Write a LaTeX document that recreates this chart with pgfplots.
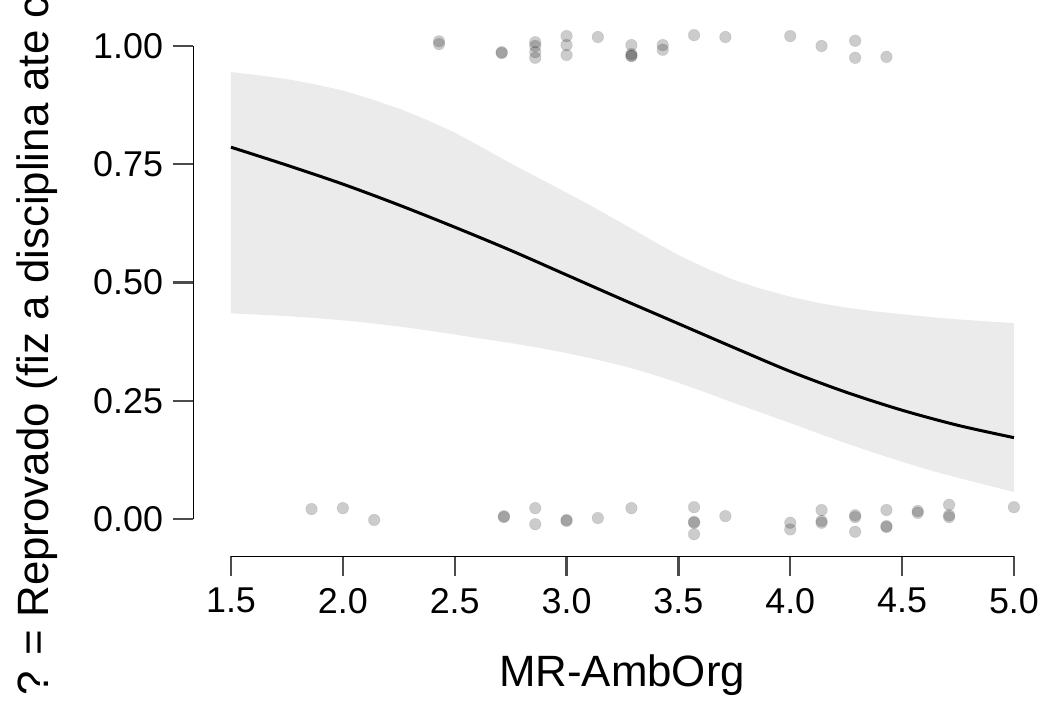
\documentclass[border=0pt]{standalone}
\usepackage{pgfplots}
\pgfplotsset{compat=1.18}
\usepackage{fontspec}
\setmainfont{Liberation Sans}

\newcommand{\ticksize}{\fontsize{18}{20}\selectfont}
\newcommand{\labsize}{\fontsize{22}{24}\selectfont}

\begin{document}
\begin{tikzpicture}
  % page = 1046x707 px at 0.5bp per px, axis corner (1.5,0) at the origin
  \useasboundingbox (-115.5bp,-94bp) rectangle (407.5bp,259.5bp);
  \begin{axis}[
    at={(0,0)}, anchor=south west,
    x=111.85bp, y=236.5bp,
    xmin=1.5, xmax=5, ymin=0, ymax=1,
    clip=false,
    axis x line*=bottom, axis y line*=left,
    x axis line style={-, yshift=-18.5bp},
    y axis line style={-, xshift=-19bp},
    every axis line/.append style={line width=1.1bp, draw=black!70},
    tick align=outside, major tick length=10bp,
    xtick style={yshift=-18.5bp, line width=1.1bp, draw=black!70},
    ytick style={xshift=-19bp, line width=1.1bp, draw=black!70},
    xtick={1.5,2,2.5,3,3.5,4,4.5,5},
    xticklabels={1.5,2.0,2.5,3.0,3.5,4.0,4.5,5.0},
    ytick={0,0.25,0.5,0.75,1},
    yticklabels={0.00,0.25,0.50,0.75,1.00},
    xticklabel shift=21bp,
    yticklabel shift=20.5bp,
    tick label style={font=\ticksize},
  ]
    % confidence band: upper edge left to right, then lower edge back
    \addplot[fill=black!8, draw=none] coordinates {
      (1.5,0.945) (1.625,0.938) (1.75,0.930) (1.875,0.919) (2.0,0.906)
      (2.125,0.888) (2.25,0.868) (2.375,0.844) (2.5,0.817) (2.625,0.785)
      (2.75,0.752) (2.875,0.721) (3.0,0.690) (3.125,0.658) (3.25,0.625)
      (3.375,0.591) (3.5,0.558) (3.625,0.530) (3.75,0.505) (3.875,0.486)
      (4.0,0.470) (4.125,0.457) (4.25,0.447) (4.375,0.439) (4.5,0.433)
      (4.625,0.427) (4.75,0.422) (4.875,0.418) (5.0,0.414)
      (5.0,0.057) (4.875,0.072) (4.75,0.087) (4.625,0.103) (4.5,0.121)
      (4.375,0.140) (4.25,0.160) (4.125,0.181) (4.0,0.203) (3.875,0.224)
      (3.75,0.245) (3.625,0.267) (3.5,0.288) (3.375,0.307) (3.25,0.324)
      (3.125,0.338) (3.0,0.351) (2.875,0.362) (2.75,0.372) (2.625,0.381)
      (2.5,0.390) (2.375,0.399) (2.25,0.407) (2.125,0.414) (2.0,0.420)
      (1.875,0.425) (1.75,0.429) (1.625,0.432) (1.5,0.435)
    } -- cycle;
    % fitted curve
    \addplot[black, line width=1.5bp, smooth] coordinates {
      (1.5,0.786) (1.75,0.748) (2.0,0.708) (2.25,0.664) (2.5,0.617)
      (2.75,0.568) (3.0,0.516) (3.25,0.464) (3.5,0.413) (3.75,0.362)
      (4.0,0.312) (4.25,0.268) (4.5,0.230) (4.75,0.198) (5.0,0.172)
    };
    % jittered observations
    \addplot[only marks, mark=*, black, mark size=2.9bp,
      mark options={fill=black, fill opacity=0.2, draw opacity=0.08}] coordinates {
      (2.43,1.010) (2.43,1.004) (2.71,0.987) (2.71,0.985)
      (2.86,1.008) (2.86,1.000) (2.86,0.987) (2.86,0.975)
      (3.0,1.021) (3.0,1.002) (3.0,0.981) (3.14,1.019)
      (3.29,1.002) (3.29,0.979) (3.29,0.979) (3.29,0.983)
      (3.43,1.002) (3.43,0.992) (3.57,1.023) (3.71,1.019)
      (4.0,1.021) (4.14,1.000) (4.29,1.011) (4.29,0.975) (4.43,0.977)
      (1.86,0.021) (2.0,0.023) (2.14,-0.002) (2.72,0.004) (2.72,0.006)
      (2.86,0.023) (2.86,-0.011) (3.0,-0.004) (3.0,-0.002) (3.14,0.002)
      (3.29,0.023) (3.57,0.025) (3.57,-0.008) (3.57,-0.006) (3.57,-0.032)
      (3.71,0.006) (4.0,-0.008) (4.0,-0.022) (4.14,0.019) (4.14,-0.004)
      (4.14,-0.008) (4.29,0.004) (4.29,0.008) (4.29,-0.027) (4.43,0.019)
      (4.43,-0.017) (4.43,-0.015) (4.57,0.013) (4.57,0.017) (4.71,0.030)
      (4.71,0.004) (4.71,0.008) (5.0,0.025)
    };
    \node[font=\labsize, anchor=base] at (axis cs:3.248,-0.355) {MR-AmbOrg};
    \node[font=\labsize, anchor=base west, rotate=90]
      at (axis cs:0.682,-0.389) {? = Reprovado (fiz a disciplina ate c};
  \end{axis}
\end{tikzpicture}
\end{document}
